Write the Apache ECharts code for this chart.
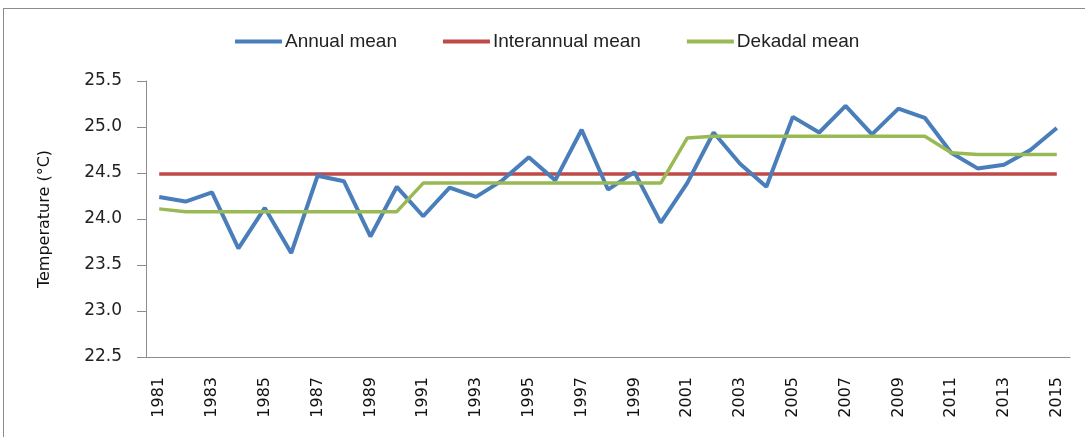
<!DOCTYPE html>
<html>
<head>
<meta charset="utf-8">
<script src="https://cdn.jsdelivr.net/npm/echarts@6/dist/echarts.min.js"></script>
<style>
  html, body { margin: 0; padding: 0; background: #fff; overflow: hidden; }
  .frame { position: absolute; left: 3px; top: 8px; width: 1100px; height: 450px; border: 1px solid #8c8c8c; box-sizing: border-box; }
  #chart { position: absolute; left: 0; top: 0; width: 1085px; height: 437px; }
</style>
</head>
<body>
<div class="frame"></div>
<div id="chart"></div>
<script>
// years 1981-2015
const years = []
for (let y = 1981; y <= 2015; y++) years.push(String(y))

// annual mean temperature (°C)
const annualMean = [
  24.24, 24.19, 24.29, 23.68, 24.12, 23.63, 24.47, 24.41, 23.81, 24.35,
  24.03, 24.34, 24.24, 24.42, 24.67, 24.42, 24.97, 24.32, 24.51, 23.96,
  24.39, 24.94, 24.60, 24.35, 25.11, 24.94, 25.23, 24.92, 25.20, 25.10,
  24.72, 24.55, 24.59, 24.75, 24.99
]

// interannual mean, flat
const interannualValue = 24.49
const interannualMean = years.map(() => interannualValue)

// dekadal means
const dekadalMean = [
  24.11, 24.08, 24.08, 24.08, 24.08, 24.08, 24.08, 24.08, 24.08, 24.08,
  24.39, 24.39, 24.39, 24.39, 24.39, 24.39, 24.39, 24.39, 24.39, 24.39,
  24.88, 24.90, 24.90, 24.90, 24.90, 24.90, 24.90, 24.90, 24.90, 24.90,
  24.72, 24.70, 24.70, 24.70, 24.70
]

const chart = echarts.init(document.getElementById('chart'))

const option = {
  animation: false,
  legend: {
    top: 27,
    left: 230,
    itemWidth: 47,
    itemHeight: 4,
    itemGap: 46,
    icon: 'rect',
    textStyle: { fontFamily: 'Liberation Sans', fontSize: 19, color: '#222', padding: [0, 0, 0, -2] },
    data: ['Annual mean', 'Interannual mean', 'Dekadal mean']
  },
  grid: { left: 146, right: 15, top: 81, bottom: 80 },
  xAxis: {
    type: 'category',
    boundaryGap: true,
    data: years,
    axisLine: { lineStyle: { color: '#8c8c8c' } },
    axisTick: { show: false },
    axisLabel: {
      rotate: 90,
      interval: 1,
      margin: 20,
      fontFamily: 'DejaVu Sans',
      fontSize: 16,
      color: '#111'
    }
  },
  yAxis: {
    type: 'value',
    min: 22.5,
    max: 25.5,
    interval: 0.5,
    name: 'Temperature (°C)',
    nameLocation: 'middle',
    nameGap: 93,
    nameTextStyle: { fontFamily: 'DejaVu Sans', fontSize: 16, color: '#111' },
    splitLine: { show: false },
    axisLine: { show: true, lineStyle: { color: '#8c8c8c' } },
    axisTick: { show: true, length: 9, lineStyle: { color: '#8c8c8c' } },
    axisLabel: {
      formatter: v => v.toFixed(1),
      margin: 24,
      fontFamily: 'DejaVu Sans',
      fontSize: 17,
      color: '#222'
    }
  },
  series: [
    {
      name: 'Annual mean',
      type: 'line',
      data: annualMean,
      symbol: 'none',
      lineStyle: { color: '#4a7ebb', width: 4 },
      itemStyle: { color: '#4a7ebb' },
      z: 3
    },
    {
      name: 'Interannual mean',
      type: 'line',
      data: interannualMean,
      symbol: 'none',
      lineStyle: { color: '#be4b48', width: 3.5 },
      itemStyle: { color: '#be4b48' },
      z: 2
    },
    {
      name: 'Dekadal mean',
      type: 'line',
      data: dekadalMean,
      symbol: 'none',
      lineStyle: { color: '#98b954', width: 3.5 },
      itemStyle: { color: '#98b954' },
      z: 4
    }
  ]
}

chart.setOption(option)
</script>
</body>
</html>
